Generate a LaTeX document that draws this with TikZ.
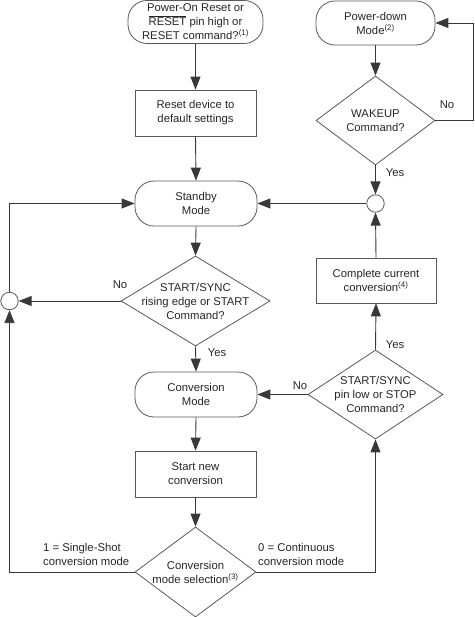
\documentclass[tikz,border=0pt]{standalone}
\usepackage{fontspec}
\setmainfont{Liberation Sans}
\usetikzlibrary{shapes.geometric,arrows.meta}
\begin{document}
\begin{tikzpicture}[x=1pt,y=-1pt,
  every node/.style={font=\fontsize{11.3}{14}\selectfont, text=black!85},
  line/.style={draw=black!78, line width=0.9pt},
  arr/.style={line, -{Triangle[length=13pt,width=10pt]}},
  shp/.style={draw=black!65, line width=0.8pt, inner sep=0pt, align=center},
  term/.style={shp, rectangle, rounded corners=19pt},
  box/.style={shp, rectangle},
  dia/.style={shp, diamond},
  junc/.style={shp, circle, fill=white, minimum size=17.5pt},
  lbl/.style={inner sep=0pt, align=left}
]
\useasboundingbox (0,0) rectangle (474,617);

% left column
\node[term, minimum width=135pt, minimum height=43pt] (por) at (195.5,22)
  {Power-On Reset or\\$\overline{\mbox{RESET}}$ pin high or\\RESET command?\textsuperscript{(1)}};
\node[box, minimum width=121pt, minimum height=46pt] (reset) at (195.5,113)
  {Reset device to\\default settings};
\node[term, minimum width=122pt, minimum height=45pt] (standby) at (196,203.5)
  {Standby\\Mode};
\node[dia, minimum width=149pt, minimum height=90pt,
  label={[align=center]center:START/SYNC\\rising edge or START\\Command?}] (d1) at (195.5,301) {};
\node[term, minimum width=122pt, minimum height=45pt] (conv) at (196,394.5)
  {Conversion\\Mode};
\node[box, minimum width=121pt, minimum height=46pt] (startnew) at (195.5,474)
  {Start new\\conversion};
\node[dia, minimum width=121pt, minimum height=90pt,
  label={[align=center]center:Conversion\\mode selection\textsuperscript{(3)}}] (d3) at (195.5,572) {};

% right column
\node[term, minimum width=119pt, minimum height=44pt] (pd) at (375.5,23)
  {Power-down\\Mode\textsuperscript{(2)}};
\node[dia, minimum width=119pt, minimum height=89pt,
  label={[align=center]center:WAKEUP\\Command?}] (wake) at (375.5,120.5) {};
\node[junc] (cr) at (375.5,203.5) {};
\node[box, minimum width=120pt, minimum height=45pt] (complete) at (376,280.5)
  {Complete current\\conversion\textsuperscript{(4)}};
\node[dia, minimum width=135pt, minimum height=89pt,
  label={[align=center]center:START/SYNC\\pin low or STOP\\Command?}] (d2) at (375.5,394.5) {};

% left junction
\node[junc] (cl) at (9.5,301) {};

% connectors
\draw[arr] (por.south) -- (reset.north);
\draw[arr] (reset.south) -- (standby.north);
\draw[arr] (standby.south) -- (d1.north);
\draw[arr] (d1.south) -- (conv.north);
\draw[arr] (d1.west) -- (cl.east);
\draw[arr] (cl.north) |- (standby.west);
\draw[arr] (conv.south) -- (startnew.north);
\draw[arr] (startnew.south) -- (d3.north);
\draw[arr] (d3.west) -| (cl.south);
\draw[arr] (d3.east) -| (d2.south);
\draw[arr] (d2.west) -- (conv.east);
\draw[arr] (d2.north) -- (complete.south);
\draw[arr] (complete.north) -- (cr.south);
\draw[arr] (cr.west) -- (standby.east);
\draw[arr] (pd.south) -- (wake.north);
\draw[arr] (wake.south) -- (cr.north);
\coordinate (wr) at (473,120.5);
\draw[arr] (wake.east) -- (wr) |- (pd.east);

% labels
\node[lbl] (no1) at (120,285) {No};
\node[lbl] (yes1) at (217,353) {Yes};
\node[lbl] (no2) at (300,386) {No};
\node[lbl] (yes2) at (395,345) {Yes};
\node[lbl] (yes3) at (395,173) {Yes};
\node[lbl] (no3) at (447,105) {No};
\node[lbl, anchor=west] (ssl) at (43,554.5) {1 = Single-Shot\\conversion mode};
\node[lbl, anchor=west] (ctl) at (258,554.5) {0 = Continuous\\conversion mode};
\end{tikzpicture}
\end{document}
